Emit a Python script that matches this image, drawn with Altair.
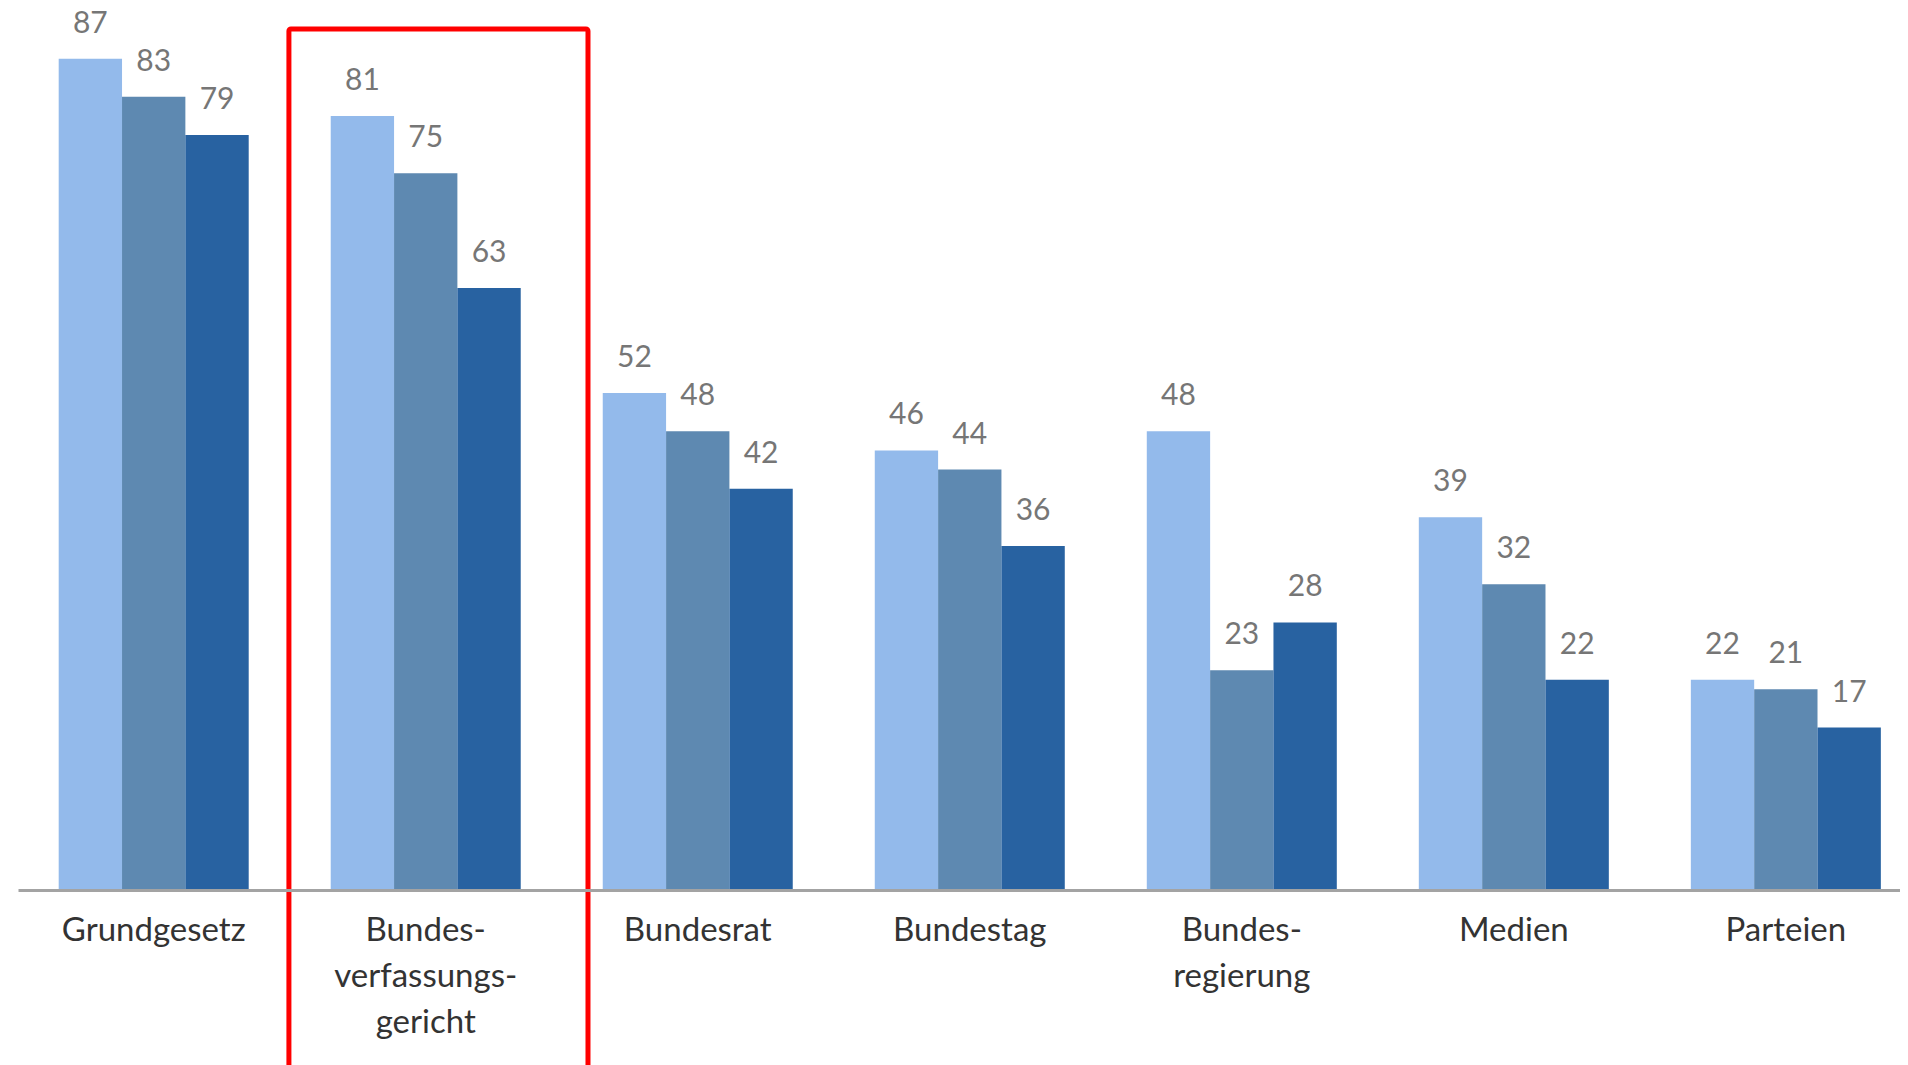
import altair as alt
import pandas as pd

categories = ["Grundgesetz", "Bundes-|verfassungs-|gericht", "Bundesrat", "Bundestag",
              "Bundes-|regierung", "Medien", "Parteien"]
series = ["Serie 1", "Serie 2", "Serie 3"]
values_s1 = [87, 81, 52, 46, 48, 39, 22]
values_s2 = [83, 75, 48, 44, 23, 32, 21]
values_s3 = [79, 63, 42, 36, 28, 22, 17]
colors = ["#93BAEB", "#5E89B1", "#2862A1"]

highlight_category = ["Bundes-|verfassungs-|gericht"]
highlight_top = [90.1]

rows = []
for i, c in enumerate(categories):
    for s, vals in zip(series, [values_s1, values_s2, values_s3]):
        rows.append({"cat": c, "serie": s, "wert": vals[i]})
df = pd.DataFrame(rows)
hl = pd.DataFrame({"cat": highlight_category, "top": highlight_top})

FONT = "Lato"
W, H = 1882, 882

xscale = alt.Scale(domain=categories, paddingInner=0.3015, paddingOuter=0.11, align=0.68)
yscale = alt.Scale(domain=[0, 92.3])

xenc = alt.X("cat:N", scale=xscale, sort=categories,
             axis=alt.Axis(title=None, labelAngle=0, ticks=False, tickSize=0,
                           domainColor="#a3a3a3", domainWidth=3, zindex=1,
                           labelFont=FONT, labelFontSize=33, labelColor="#333333",
                           labelLineHeight=46, labelPadding=50, labelBaseline="alphabetic",
                           labelExpr="split(datum.label, '|')", labelLimit=400))

bars = alt.Chart(df).mark_bar().encode(
    x=xenc,
    xOffset=alt.XOffset("serie:N", sort=series, scale=alt.Scale(paddingInner=0, paddingOuter=0)),
    y=alt.Y("wert:Q", scale=yscale, axis=None),
    color=alt.Color("serie:N", scale=alt.Scale(domain=series, range=colors), legend=None),
)

labels = alt.Chart(df).mark_text(font=FONT, fontSize=30, color="#767676",
                                 baseline="alphabetic", align="center", dy=-26).encode(
    x=alt.X("cat:N", scale=xscale, sort=categories),
    xOffset=alt.XOffset("serie:N", sort=series),
    y=alt.Y("wert:Q", scale=yscale),
    text=alt.Text("wert:Q"),
)

box = alt.Chart(hl).mark_rect(fill="transparent", stroke="#ff0000", strokeWidth=5,
                              cornerRadius=2).encode(
    x=alt.value(alt.ExprRef("scale('x', datum.cat) - 0.22 * bandwidth('x')")),
    x2=alt.value(alt.ExprRef("scale('x', datum.cat) + 1.354 * bandwidth('x')")),
    y=alt.Y("top:Q", scale=yscale),
    y2=alt.value(1200),
)

chart = alt.layer(bars, labels, box).properties(
    width=W, height=H,
    background="white",
    autosize=alt.AutoSizeParams(type="none"),
    padding={"left": 10, "top": 0, "right": 0, "bottom": 175},
).configure_view(stroke="transparent", strokeWidth=0)

chart.save("out.html", embed_options={"renderer": "svg", "actions": False})
